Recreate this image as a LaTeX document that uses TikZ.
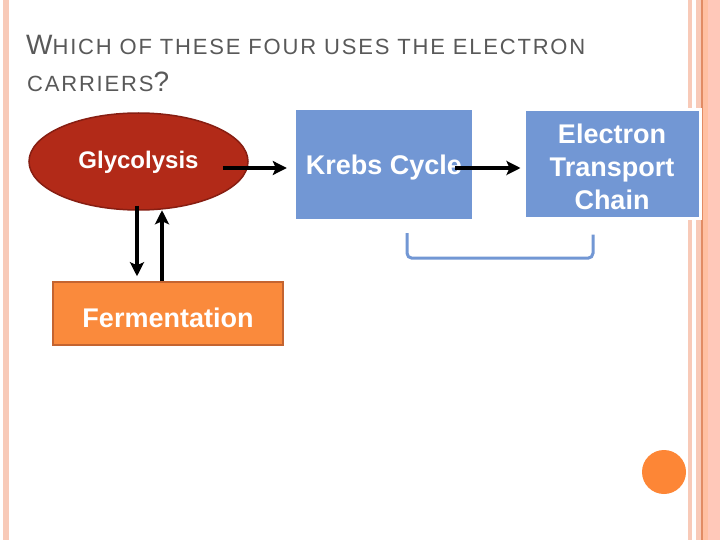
\documentclass[tikz,border=0pt]{standalone}
\usepackage{fontspec}
\setmainfont{Liberation Sans}
\usetikzlibrary{arrows.meta,shapes.geometric}

\definecolor{stepblue}{RGB}{114,151,212}
\definecolor{glycred}{RGB}{178,42,24}
\definecolor{glycedge}{RGB}{135,30,18}
\definecolor{fermorange}{RGB}{250,138,60}
\definecolor{fermedge}{RGB}{196,100,48}
\definecolor{dotorange}{RGB}{253,134,54}
\definecolor{titlegray}{RGB}{89,89,89}
\definecolor{stripepink}{RGB}{248,202,184}
\definecolor{stripepeach}{RGB}{255,192,162}
\definecolor{stripeline}{RGB}{226,140,100}
\definecolor{stripesalmon}{RGB}{255,200,185}

\begin{document}
\begin{tikzpicture}[
        x=1pt, y=-1pt,
        >={Stealth[length=14pt,width=14pt,inset=3pt]},
        stepbox/.style={fill=stepblue, minimum width=176pt, minimum height=109pt,
            inner sep=0pt, align=center, text=white,
            font=\fontsize{27}{33}\selectfont\bfseries},
        flow/.style={->, line width=3.5pt},
        ]
        % Page and side stripes
        \useasboundingbox[fill=white] (0,0) rectangle (720,540);
        \fill[stripepink] (3,0) rectangle (9,540);
        \fill[stripepink] (688,0) rectangle (692,540);
        \fill[stripepink] (696,0) rectangle (701,540);
        \fill[stripeline] (701,0) rectangle (703,540);
        \fill[stripepeach] (703,0) rectangle (708,540);
        \fill[stripesalmon] (708,0) rectangle (720,540);

        % Title
        \node[anchor=base west, inner sep=0pt, text=titlegray] (titleA) at (26,55)
            {\fontsize{28}{34}\selectfont W{\fontsize{22}{26}\selectfont\addfontfeature{LetterSpace=8.2}HICH OF THESE FOUR USES THE ELECTRON}};
        \node[anchor=base west, inner sep=0pt, text=titlegray] (titleB) at (27,92)
            {\fontsize{22}{26}\selectfont{\addfontfeature{LetterSpace=8.2}CARRIERS}{\fontsize{28}{34}\selectfont ?}};

        % Steps
        \node[ellipse, fill=glycred, draw=glycedge, line width=1.5pt,
            minimum width=219pt, minimum height=97pt, inner sep=0pt, text=white,
            text height=19pt, text depth=5pt,
            font=\fontsize{24}{28}\selectfont\bfseries] (glyc) at (138.5,161.5) {Glycolysis};
        \node[stepbox, text height=26pt, text depth=5pt] (krebs) at (384,164.5) {Krebs Cycle};
        \node[stepbox, draw=white, line width=3pt] (etc) at (612,164.5) {\rule{0pt}{23.7pt}Electron\\Transport\\Chain};
        \node[fill=fermorange, draw=fermedge, line width=1.5pt,
            minimum width=230pt, minimum height=63pt, inner sep=0pt, text=white,
            text height=27pt, text depth=0pt,
            font=\fontsize{27}{33}\selectfont\bfseries] (ferm) at (168,313.5) {Fermentation};

        % Arrows
        \draw[flow, shorten >=9pt] ([xshift=-26pt,yshift=-6.5pt]glyc.east) -- ([yshift=-3.5pt]krebs.west);
        \draw[flow, shorten >=2pt] ([xshift=-17pt,yshift=-3.5pt]krebs.east) -- ([yshift=-3.5pt]etc.west);
        \draw[flow] ([xshift=-1.5pt,yshift=5pt]glyc.south) -- ([xshift=-31pt,yshift=5pt]ferm.north);
        \draw[flow] ([xshift=-6pt]ferm.north) -- ([xshift=23.5pt,yshift=0.5pt]glyc.south);

        % Bracket under the last two steps
        \draw[stepblue, line width=3pt, rounded corners=5pt]
            ([xshift=23pt,yshift=-14pt]krebs.south) -- ++(0,25) -| ([xshift=-19pt,yshift=-14pt]etc.south);

        % Corner dot
        \fill[dotorange] (664,472) circle[radius=22pt];
    \end{tikzpicture}
\end{document}
